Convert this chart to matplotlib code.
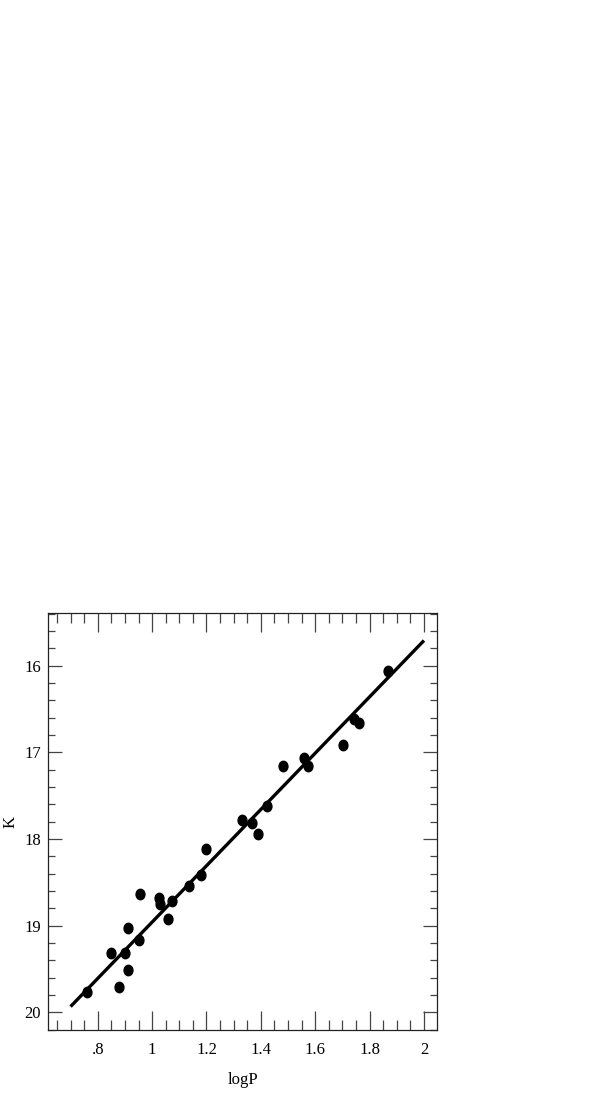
import matplotlib
matplotlib.use("Agg")
import matplotlib.pyplot as plt
from matplotlib.path import Path
from matplotlib.transforms import Affine2D
from matplotlib.ticker import MultipleLocator, FuncFormatter

logP = [1.868, 1.741, 1.760, 1.701, 1.481, 1.557, 1.573, 1.422, 1.331, 1.366,
        1.390, 1.199, 1.178, 1.136, 0.955, 1.025, 1.029, 1.074, 1.060, 0.912,
        0.951, 0.848, 0.901, 0.912, 0.878, 0.762]
K = [16.06, 16.61, 16.66, 16.91, 17.16, 17.06, 17.16, 17.62, 17.78, 17.81,
     17.94, 18.12, 18.41, 18.54, 18.64, 18.68, 18.75, 18.71, 18.92, 19.03,
     19.16, 19.31, 19.31, 19.51, 19.71, 19.77]
fit_intercept = 22.208
fit_slope = -3.249
fit_range = [0.70, 2.00]

plt.rcParams['font.family'] = ['Liberation Serif', 'DejaVu Serif']

fig = plt.figure(figsize=(5.95, 11), dpi=100)
ax = fig.add_axes([48/595, 70/1100, 389.3/595, 416.7/1100])

ell = Path.unit_circle().transformed(Affine2D().scale(0.85, 1.0))
ax.plot(logP, K, linestyle='none', marker=ell, markersize=7.5, color='black')
fx = fit_range
fy = [fit_intercept + fit_slope * v for v in fx]
ax.plot(fx, fy, color='black', lw=2.4, solid_capstyle='butt')

ax.set_xlim(0.617, 2.049)
ax.set_ylim(20.204, 15.396)

ax.xaxis.set_major_locator(MultipleLocator(0.2))
ax.xaxis.set_minor_locator(MultipleLocator(0.05))
ax.yaxis.set_major_locator(MultipleLocator(1))
ax.yaxis.set_minor_locator(MultipleLocator(0.2))

def xfmt(v, pos):
    s = f"{v:.1f}"
    if s.endswith(".0"):
        s = s[:-2]
    if s.startswith("0."):
        s = s[1:]
    return s
ax.xaxis.set_major_formatter(FuncFormatter(xfmt))
ax.yaxis.set_major_formatter(FuncFormatter(lambda v, p: f"{v:.0f}"))

ax.tick_params(axis='both', which='both', direction='in', top=True, right=True,
               labelsize=12, color='#444444', width=0.9)
ax.tick_params(axis='x', which='major', length=13.5, pad=9)
ax.tick_params(axis='x', which='minor', length=7.5)
ax.tick_params(axis='y', which='major', length=10, pad=5)
ax.tick_params(axis='y', which='minor', length=5)

for s in ax.spines.values():
    s.set_linewidth(0.9)
    s.set_color('#222222')

ax.set_xlabel('logP', fontsize=12, labelpad=10)
ax.set_ylabel('K', fontsize=12, labelpad=4)

fig.savefig('out.png', dpi=100)
